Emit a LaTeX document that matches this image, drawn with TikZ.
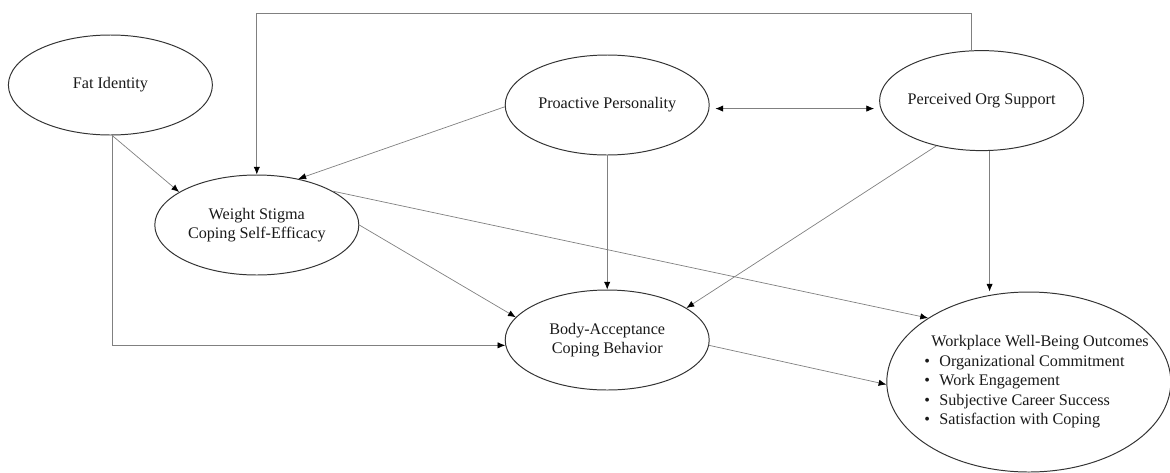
\documentclass[tikz,border=0pt]{standalone}
\usepackage{fontspec}
\setmainfont{Liberation Serif}
\usetikzlibrary{positioning,shapes.geometric,arrows.meta}

\begin{document}
\begin{tikzpicture}[node distance=2.5cm, on grid, auto,
	>={Latex[length=5.5pt,width=4.5pt,color=black]},
	construct/.style={ellipse, draw=black!80, line width=0.7pt, inner sep=0pt, inner xsep=-4pt,
		minimum width=5.1cm, minimum height=2.5cm, align=center, text=black!90,
		font=\fontsize{11.5}{13.7}\selectfont},
	link/.style={draw=black!50, line width=0.5pt}]
	\useasboundingbox (-2.76,2.125) rectangle (26.49,-9.675);
	\node (FI) [construct] {Fat Identity};
	\node (WS) [construct, below right=3.5cm and 3.66cm of FI] {Weight Stigma\\Coping Self-Efficacy};
	\node (PP) [construct, below right=0.5cm and 12.42cm of FI] {Proactive Personality};
	\node (POS) [construct, above right=0.11cm and 9.36cm of PP] {Perceived Org Support};
	\node (BA) [construct, below=5.875cm of PP] {Body-Acceptance\\Coping Behavior};
	\node (WWB) [construct, below right=1.05cm and 10.54cm of BA, minimum width=7.1cm, minimum height=4.5cm,
		inner xsep=-15pt, font=\fontsize{11.5}{13.9}\selectfont]
		{\begin{tabular}{@{\hspace{11pt}}l@{}}
		\hspace{5pt}Workplace Well-Being Outcomes\\
		\makebox[10.7pt][l]{\textbullet}Organizational Commitment\\
		\makebox[10.7pt][l]{\textbullet}Work Engagement\\
		\makebox[10.7pt][l]{\textbullet}Subjective Career Success\\
		\makebox[10.7pt][l]{\textbullet}Satisfaction with Coping
		\end{tabular}};
	\coordinate [above=5.3cm of WS] (loop);
	\draw[link, ->] ([xshift=-0.25cm]POS.north) |- (loop) to (WS.north);
	\draw[link, ->] (FI.-88) to (WS.157);
	\draw[link, ->] (FI.-88) |- (BA.183);
	\draw[link, ->] (PP.181) to (WS.48);
	\draw[link, ->] (PP.south) to (BA.north);
	\draw[link, <->, shorten <=0.15cm, shorten >=0.125cm] (PP.-2) to (PP.-2 -| POS.west);
	\draw[link, ->] (WS.east) to (BA.166);
	\draw[link, ->] (WS.24) to (WWB.north west);
	\draw[link, ->] (POS.225) to (BA.22);
	\draw[link, ->] ([xshift=0.2cm]POS.south) to ([xshift=0.2cm]POS.south |- WWB.north);
	\draw[link, ->] (BA.-3) to (WWB.181);
\end{tikzpicture}
\end{document}
